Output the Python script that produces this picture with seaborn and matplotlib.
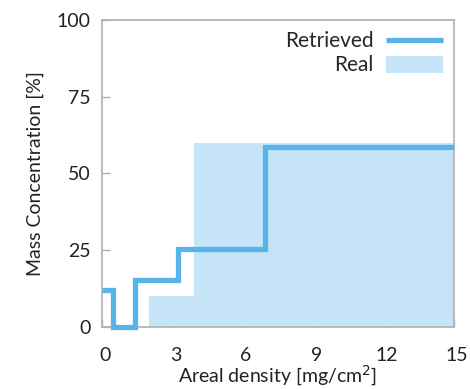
import matplotlib
matplotlib.use("Agg")
import matplotlib.pyplot as plt
import matplotlib.transforms as mtransforms
import seaborn as sns
import pandas as pd

# Step profiles: bin edges and the value held on each bin
retrieved_edges = [0.0, 0.45, 1.4, 3.25, 6.95, 15.0]
retrieved_values = [12.0, 0.0, 15.5, 25.5, 58.5]
real_edges = [0.0, 2.0, 3.9, 15.0]
real_values = [0.0, 10.0, 60.0]

x_ticks = [0, 3, 6, 9, 12, 15]
y_ticks = [0, 25, 50, 75, 100]

line_color = "#56B4E9"
fill_color = "#C5E4F7"

sns.set_theme(style="white")
plt.rcParams["font.family"] = ["Lato", "DejaVu Sans"]

fig = plt.figure(figsize=(4.70, 3.89), dpi=100)
ax = fig.add_axes([0.217, 0.159, 0.749, 0.790])

real_df = pd.DataFrame({"x": real_edges, "y": real_values + [real_values[-1]]})
ret_df = pd.DataFrame({"x": retrieved_edges,
                       "y": retrieved_values + [retrieved_values[-1]]})

ax.fill_between(real_df["x"], real_df["y"], step="post", color=fill_color,
                linewidth=0, label="Real", zorder=1)
sns.lineplot(data=ret_df, x="x", y="y", ax=ax, drawstyle="steps-post",
             color=line_color, linewidth=3.8, label="Retrieved",
             clip_on=False, zorder=3, solid_joinstyle="miter",
             solid_capstyle="butt")

ax.set_xlim(0, 15)
ax.set_ylim(0, 100)
ax.set_xticks(x_ticks)
ax.set_yticks(y_ticks)
ax.tick_params(direction="in", length=6, width=1, color="#b0b0b0",
               labelsize=14, labelcolor="#222222",
               top=False, right=False, bottom=True, left=True)
ax.tick_params(axis="x", pad=14)
ax.tick_params(axis="y", pad=8)
shift = mtransforms.ScaledTranslation(3 / 100, 0, fig.dpi_scale_trans)
for lab in ax.get_xticklabels():
    lab.set_transform(lab.get_transform() + shift)
for s in ax.spines.values():
    s.set_color("#b0b0b0")
    s.set_linewidth(1.2)

ax.set_xlabel("Areal density [mg/cm$^2$]", fontsize=14, color="#222222", labelpad=0)
ax.set_ylabel("Mass Concentration [%]", fontsize=14, color="#222222", labelpad=9)

handles, labels = ax.get_legend_handles_labels()
order = [labels.index("Retrieved"), labels.index("Real")]
ax.legend([handles[i] for i in order], [labels[i] for i in order],
          loc="upper right", frameon=False, markerfirst=False, fontsize=15,
          handlelength=2.7, handleheight=0.85, borderaxespad=0.15,
          labelspacing=0.2, handletextpad=0.6)

fig.savefig("out.png", dpi=100)
